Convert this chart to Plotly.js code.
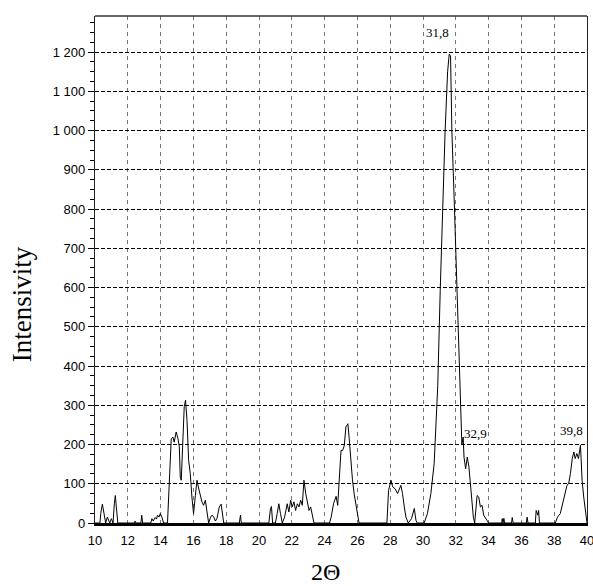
<!DOCTYPE html>
<html>
<head>
<meta charset="utf-8">
<script src="https://cdn.plot.ly/plotly-3.0.1.min.js"></script>
<style>html,body{margin:0;padding:0;background:#fff;}#chart{width:593px;height:586px;}</style>
</head>
<body>
<div id="chart"></div>
<script>
// 2-theta positions (degrees)
var twoTheta = [
  10.0,10.3,10.35,10.45,10.55,10.65,10.75,10.85,10.9,11.0,11.1,11.18,11.24,11.3,11.39,
  12.4,12.45,12.5,12.8,12.85,12.9,13.4,13.47,13.55,13.67,13.75,13.81,13.9,13.98,14.08,14.18,
  14.42,14.55,14.65,14.75,14.83,14.95,15.06,15.14,15.2,15.26,15.34,15.44,15.52,15.61,15.71,15.81,15.91,
  16.01,16.12,16.22,16.3,16.42,16.52,16.62,16.73,16.83,16.93,17.05,17.14,17.24,17.34,17.44,17.58,17.69,17.78,17.85,
  18.8,18.87,18.92,20.6,20.7,20.76,20.83,21.0,21.11,21.21,21.31,21.42,21.56,21.72,21.82,21.93,22.03,22.13,
  22.23,22.34,22.44,22.54,22.64,22.74,22.85,22.95,23.05,23.15,23.25,23.35,
  24.3,24.4,24.55,24.7,24.8,24.9,25.0,25.1,25.2,25.3,25.42,25.5,25.6,25.7,25.8,25.9,26.1,
  27.8,27.9,28.05,28.15,28.3,28.45,28.65,28.75,28.86,28.96,29.1,29.3,29.47,29.57,29.65,
  30.07,30.27,30.48,30.68,30.78,30.9,31.05,31.2,31.35,31.5,31.6,31.68,31.76,31.92,32.07,32.22,32.37,
  32.45,32.5,32.6,32.7,32.8,32.9,33.07,33.15,33.3,33.4,33.5,33.6,33.7,33.9,34.0,
  34.8,34.83,34.88,34.93,34.98,35.4,35.44,35.5,36.3,36.35,36.4,36.85,36.9,37.0,37.05,37.1,
  38.07,38.2,38.37,38.57,38.78,38.88,38.99,39.1,39.2,39.28,39.38,39.48,39.6,39.64,39.7,39.8,39.9,40.0
];
// intensity values
var intensity = [
  0,0,24,48,24,0,15,5,0,11,0,49,70,41,0,
  0,5,0,0,20,0,0,11,5,14,10,20,15,24,15,0,
  0,109,215,219,206,232,215,194,117,109,194,296,313,262,160,126,66,
  24,70,109,92,66,54,45,58,28,0,15,20,15,5,12,41,48,24,0,
  0,20,0,0,37,42,0,0,24,49,24,0,15,49,28,58,41,54,
  32,49,41,58,45,109,75,49,32,41,24,0,
  0,15,50,68,45,120,185,185,197,245,253,215,150,110,75,50,0,
  0,83,109,92,87,75,96,75,41,15,0,11,37,7,0,
  0,24,75,151,236,350,593,800,1000,1150,1195,1190,1000,800,593,380,200,
  219,168,138,168,143,92,15,0,70,66,41,45,20,7,0,
  0,11,0,12,0,0,14,0,0,15,0,0,32,20,32,0,
  0,15,24,58,96,100,126,164,181,164,177,164,198,164,109,66,24,0
];
// peak labels
var peakLabels = ["31,8", "32,9", "39,8"];
var peakLabelX = [30.9, 33.18, 39.05];
var peakLabelY = [1249, 229, 236];

var tickFont = {family: "'Liberation Sans Narrow', 'Arial Narrow', 'Liberation Sans', Arial, sans-serif", size: 13, color: '#000'};
var serif = "'Liberation Serif', 'Times New Roman', serif";

var trace = {
  x: twoTheta, y: intensity, type: 'scatter', mode: 'lines',
  line: {color: '#000', width: 1}, hoverinfo: 'skip', showlegend: false
};

var annotations = peakLabels.map(function(t, i){
  return {x: peakLabelX[i], y: peakLabelY[i], xref: 'x', yref: 'y', text: t, showarrow: false,
          font: {family: serif, size: 13, color: '#000'}, xanchor: 'center', yanchor: 'middle'};
});
annotations.push({text: 'Intensivity', xref: 'paper', yref: 'paper', x: -0.148, y: 0.432, textangle: -90,
  showarrow: false, font: {family: serif, size: 27, color: '#000'}, xanchor: 'center', yanchor: 'middle'});
annotations.push({text: '2\u0398', xref: 'paper', yref: 'paper', x: 0.4675, y: -0.0966,
  showarrow: false, font: {family: serif, size: 24, color: '#000'}, xanchor: 'center', yanchor: 'middle', borderpad: 0});

var layout = {
  width: 593, height: 586,
  margin: {l: 95, r: 6, t: 16, b: 63, pad: 0},
  paper_bgcolor: '#fff', plot_bgcolor: '#fff',
  separators: ', ',
  showlegend: false,
  xaxis: {
    range: [10, 40], tick0: 10, dtick: 2, tickmode: 'linear',
    ticks: '', showgrid: true, gridcolor: '#777', gridwidth: 1, griddash: '4px,4px',
    showline: true, linecolor: '#000', linewidth: 2.5, zeroline: false,
    tickfont: tickFont, ticklabelstandoff: 4, ticklabeloverflow: 'allow', fixedrange: true
  },
  yaxis: {
    range: [0, 1292], tick0: 0, dtick: 100, tickmode: 'linear', separatethousands: true,
    ticks: 'outside', ticklen: 6, tickcolor: '#000', tickwidth: 1,
    minor: {dtick: 25, ticks: 'outside', ticklen: 4, tickcolor: '#000', showgrid: false},
    showgrid: true, gridcolor: '#000', gridwidth: 1, griddash: '4px,2px',
    showline: true, linecolor: '#222', linewidth: 1.2, mirror: true, zeroline: false,
    tickfont: tickFont, fixedrange: true
  },
  shapes: [{type: 'line', xref: 'paper', yref: 'paper', x0: 0, x1: 1, y0: 1, y1: 1,
            line: {color: '#333', width: 1.5}}],
  annotations: annotations
};

Plotly.newPlot('chart', [trace], layout, {staticPlot: true, displayModeBar: false});
</script>
</body>
</html>
